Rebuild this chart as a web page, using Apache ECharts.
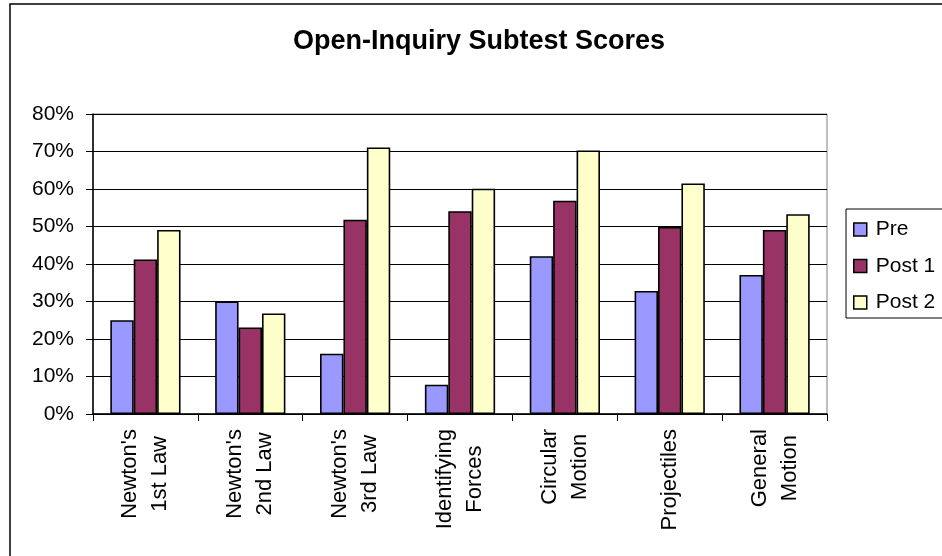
<!DOCTYPE html>
<html>
<head>
<meta charset="utf-8">
<script src="https://cdn.jsdelivr.net/npm/echarts@6/dist/echarts.min.js"></script>
<style>
  html, body { margin: 0; padding: 0; background: #fff; }
  #chart { width: 942px; height: 556px; }
</style>
</head>
<body>
<div id="chart"></div>
<script>
// categories and scores (percent)
var categories = ["Newton's\n1st Law", "Newton's\n2nd Law", "Newton's\n3rd Law", "Identifying\nForces", "Circular\nMotion", "Projectiles", "General\nMotion"];
var pre   = [25.0, 30.0, 16.1, 7.8, 42.1, 32.8, 37.1];
var post1 = [41.2, 23.1, 51.8, 54.1, 56.9, 49.9, 49.1];
var post2 = [49.1, 26.8, 71.1, 60.1, 70.3, 61.5, 53.3];

var FONT = '"Liberation Sans", Arial, sans-serif';

var myChart = echarts.init(document.getElementById('chart'));

function bar(name, data, color) {
    return {
        name: name,
        type: 'bar',
        data: data,
        barGap: '0%',
        barCategoryGap: '33%',
        itemStyle: { color: color, borderColor: '#000', borderWidth: 1.6 },
        emphasis: { disabled: true }
    };
}

var option = {
    animation: false,
    backgroundColor: '#fff',
    textStyle: { fontFamily: FONT },
    title: {
        text: 'Open-Inquiry Subtest Scores',
        left: 293,
        top: 28,
        padding: 0,
        textStyle: { fontFamily: FONT, fontSize: 27, fontWeight: 'bold', color: '#000' }
    },
    // 外框
    graphic: [{
        type: 'rect',
        shape: { x: 10, y: 4, width: 1000, height: 1000 },
        style: { fill: null, stroke: '#000', lineWidth: 1.5 },
        z: 100
    }],
    legend: {
        orient: 'vertical',
        left: 846,
        top: 209,
        padding: [8, 12, 3, 7],
        itemWidth: 13,
        itemHeight: 13,
        itemGap: 11.5,
        icon: 'rect',
        backgroundColor: '#fff',
        borderColor: '#000',
        borderWidth: 1,
        itemStyle: { borderColor: '#000', borderWidth: 1.5 },
        textStyle: { fontFamily: FONT, fontSize: 21, color: '#000', lineHeight: 25, padding: [0, 0, 0, 4] },
        data: ['Pre', 'Post 1', 'Post 2']
    },
    grid: {
        left: 93,
        right: 115,
        top: 114,
        bottom: 142,
        show: true,
        borderColor: '#808080',
        borderWidth: 1
    },
    xAxis: {
        type: 'category',
        data: categories,
        axisLine: { lineStyle: { color: '#000', width: 1.5 } },
        axisTick: { show: true, length: 7, lineStyle: { color: '#000' } },
        axisLabel: {
            rotate: 90,
            margin: 15,
            interval: 0,
            color: '#000',
            // 每行居中
            formatter: function (v) {
                return v.split('\n').map(function (s) { return '{c|' + s + '}'; }).join('\n');
            },
            rich: {
                c: { align: 'center', fontFamily: FONT, fontSize: 22, lineHeight: 30, color: '#000' }
            }
        }
    },
    yAxis: {
        type: 'value',
        min: 0,
        max: 80,
        interval: 10,
        axisLine: { show: true, lineStyle: { color: '#000', width: 1.5 } },
        axisTick: { show: true, length: 7, lineStyle: { color: '#000' } },
        splitLine: { lineStyle: { color: '#000', width: 1 } },
        axisLabel: {
            formatter: '{value}%',
            margin: 19,
            fontFamily: FONT,
            fontSize: 21,
            color: '#000'
        }
    },
    series: [
        bar('Pre', pre, '#9999FF'),
        bar('Post 1', post1, '#993366'),
        bar('Post 2', post2, '#FFFFCC')
    ]
};

option && myChart.setOption(option);
</script>
</body>
</html>
